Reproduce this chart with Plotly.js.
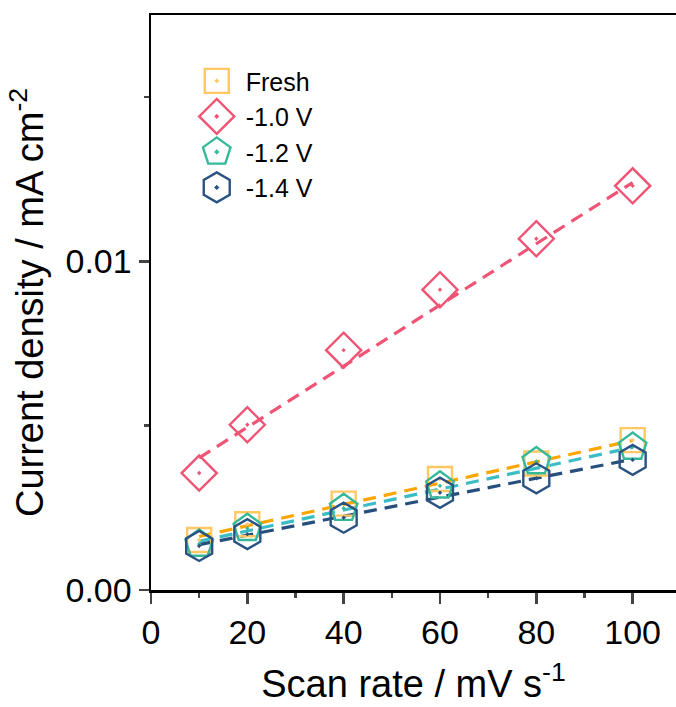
<!DOCTYPE html>
<html><head><meta charset="utf-8">
<script src="https://cdn.plot.ly/plotly-3.0.1.min.js"></script>
<style>body{margin:0;background:#fff}#chart{width:676px;height:707px}</style>
</head><body><div id="chart"></div>
<script>
// Data
const scanRate = [10, 20, 40, 60, 80, 100];
const fresh = [0.00152, 0.00200, 0.00263, 0.00338, 0.00385, 0.00456];
const v10 = [0.00356, 0.00503, 0.00730, 0.00914, 0.01069, 0.01230];
const v12 = [0.00140, 0.00188, 0.00249, 0.00317, 0.00391, 0.00435];
const v14 = [0.00134, 0.00170, 0.00220, 0.00296, 0.00340, 0.00396];
// Linear-fit lines (end points)
const fitX = [10, 100];
const fitFresh = [0.00163, 0.00455];
const fitV10 = [0.00402, 0.01240];
const fitV12 = [0.00148, 0.00434];
const fitV14 = [0.00138, 0.00398];
const names = ['Fresh', '-1.0 V', '-1.2 V', '-1.4 V'];
const xTicks = [0, 20, 40, 60, 80, 100];
const yTicks = [0.00, 0.01];

const mk = [
  {y: fresh, sym: 'square-open-dot', size: 24, col: '#FFC862'},
  {y: v10, sym: 'diamond-open-dot', size: 27, col: '#EF5474'},
  {y: v12, sym: 'pentagon-open-dot', size: 29, col: '#35B99A'},
  {y: v14, sym: 'hexagon-open-dot', size: 30, col: '#2A5282'}
];
const fits = [
  {y: fitFresh, col: '#FFA500'},
  {y: fitV10, col: '#EF5474'},
  {y: fitV12, col: '#3CBCC4'},
  {y: fitV14, col: '#274F7E'}
];
const traces = [];
fits.forEach(f => traces.push({
  x: fitX, y: f.y, mode: 'lines', showlegend: false, hoverinfo: 'skip',
  line: {color: f.col, width: 3.2, dash: '13px,8px'}
}));
mk.forEach((m, i) => traces.push({
  x: scanRate, y: m.y, mode: 'markers', name: names[i], legendgroup: 'g' + i,
  marker: {symbol: m.sym, size: m.size, color: m.col, line: {color: m.col, width: 2.4}}
}));

const font = 'Arial, "Liberation Sans", sans-serif';
const layout = {
  width: 676, height: 707,
  margin: {l: 151, r: 0, t: 15, b: 117},
  paper_bgcolor: '#fff', plot_bgcolor: '#fff',
  font: {family: font, color: '#000'},
  showlegend: true,
  legend: {x: 0.07, y: 0.925, xanchor: 'left', yanchor: 'top', bgcolor: 'rgba(0,0,0,0)',
    font: {size: 25, family: font}, itemwidth: 48, traceorder: 'grouped', tracegroupgap: 0},
  xaxis: {
    range: [0, 109], tickvals: xTicks, ticks: 'outside', ticklen: 11, tickwidth: 2.5,
    showgrid: false, zeroline: false, showline: true, linewidth: 2.5, linecolor: '#000',
    mirror: true, tickfont: {size: 34, family: font},
    minor: {dtick: 10, tick0: 0, ticks: 'outside', ticklen: 5, tickwidth: 2.5, showgrid: false},
    title: {text: 'Scan rate / mV s<sup>-1</sup>', font: {size: 38, family: font}, standoff: 20}
  },
  yaxis: {
    range: [0, 0.0175], tickvals: yTicks, tickformat: '.2f', ticks: 'outside', ticklen: 10, tickwidth: 2.5,
    showgrid: false, zeroline: false, showline: true, linewidth: 2.5, linecolor: '#000',
    tickfont: {size: 34, family: font},
    minor: {dtick: 0.005, tick0: 0, ticks: 'outside', ticklen: 5, tickwidth: 2.5, showgrid: false},
    title: {text: 'Current density / mA cm<sup>-2</sup>', font: {size: 38, family: font}, standoff: 10}
  }
};
Plotly.newPlot('chart', traces, layout, {displayModeBar: false, staticPlot: true}).then(() => {
  const pts = document.querySelectorAll('.legend .traces');
  pts.forEach((tr, i) => {
    const m = mk[i];
    if (!m) return;
    const s = m.size / 16;
    tr.querySelectorAll('.scatterpts').forEach(p => {
      p.setAttribute('transform', (p.getAttribute('transform') || '') + ' scale(' + s + ')');
      p.style.vectorEffect = 'non-scaling-stroke';
      p.style.strokeWidth = '2.4px';
    });
  });
});
</script></body></html>
